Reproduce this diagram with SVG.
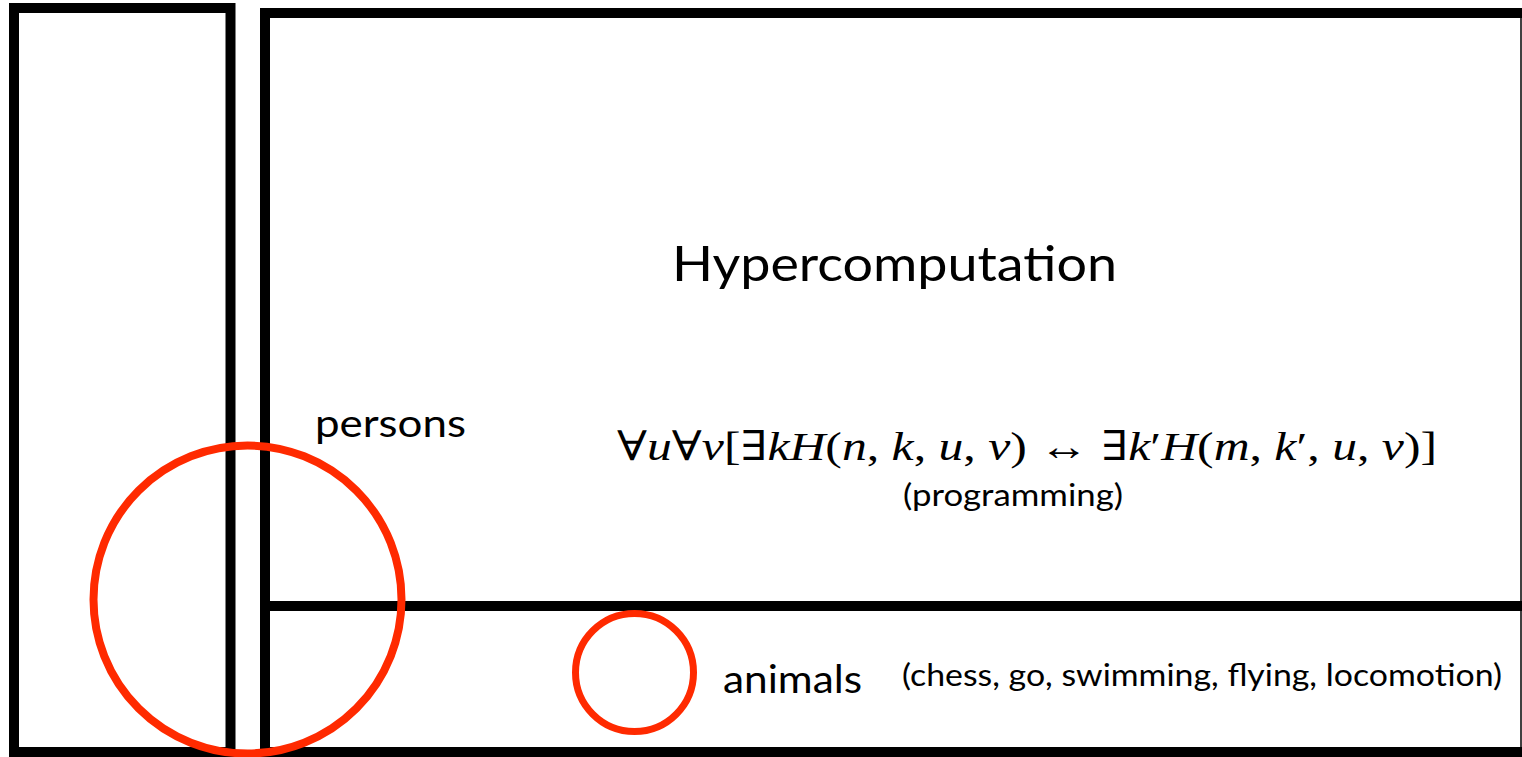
<svg xmlns="http://www.w3.org/2000/svg" width="1522" height="757" viewBox="0 0 1522 757">
<style>
.box{fill:none;stroke:#000;stroke-width:10}
.ring{fill:none;stroke:#ff2a00}
.lbl{font-family:Lato,"Open Sans","Liberation Sans",sans-serif;fill:#000}
.math{font-family:"Liberation Serif","DejaVu Serif",serif;fill:#000}
.it{font-style:italic}
</style>
<rect width="1522" height="757" fill="#fff"/>
<g id="left-box"><rect class="box" x="14" y="8" width="216.5" height="744"/></g>
<g id="hyper-box">
<path class="box" d="M1522 13 H265 V752 H1522"/>
<line x1="1521" y1="13" x2="1521" y2="752" stroke="#000" stroke-width="1.5"/>
<line class="box" x1="265" y1="606" x2="1522" y2="606"/>
<text class="lbl" x="672" y="281" font-size="48" textLength="445" lengthAdjust="spacingAndGlyphs">Hypercomputation</text>
<text class="math" x="617" y="460" font-size="41" textLength="820" lengthAdjust="spacingAndGlyphs">∀<tspan class="it">u</tspan>∀<tspan class="it">v</tspan>[∃<tspan class="it">kH</tspan>(<tspan class="it">n</tspan>, <tspan class="it">k</tspan>, <tspan class="it">u</tspan>, <tspan class="it">v</tspan>) ↔ ∃<tspan class="it">k</tspan>′<tspan class="it">H</tspan>(<tspan class="it">m</tspan>, <tspan class="it">k</tspan>′, <tspan class="it">u</tspan>, <tspan class="it">v</tspan>)]</text>
<text class="lbl" x="903" y="506" font-size="30" textLength="220" lengthAdjust="spacingAndGlyphs">(programming)</text>
<text class="lbl" x="902" y="686" font-size="30" textLength="600" lengthAdjust="spacingAndGlyphs">(chess, go, swimming, flying, locomotion)</text>
</g>
<g id="persons">
<circle class="ring" cx="247.5" cy="599.5" r="154" stroke-width="8"/>
<text class="lbl" x="315" y="437" font-size="38" textLength="151" lengthAdjust="spacingAndGlyphs">persons</text>
</g>
<g id="animals">
<circle class="ring" cx="634.5" cy="672.5" r="59" stroke-width="7"/>
<text class="lbl" x="723" y="693" font-size="38" textLength="139" lengthAdjust="spacingAndGlyphs">animals</text>
</g>
<g id="connectors"></g>
</svg>
